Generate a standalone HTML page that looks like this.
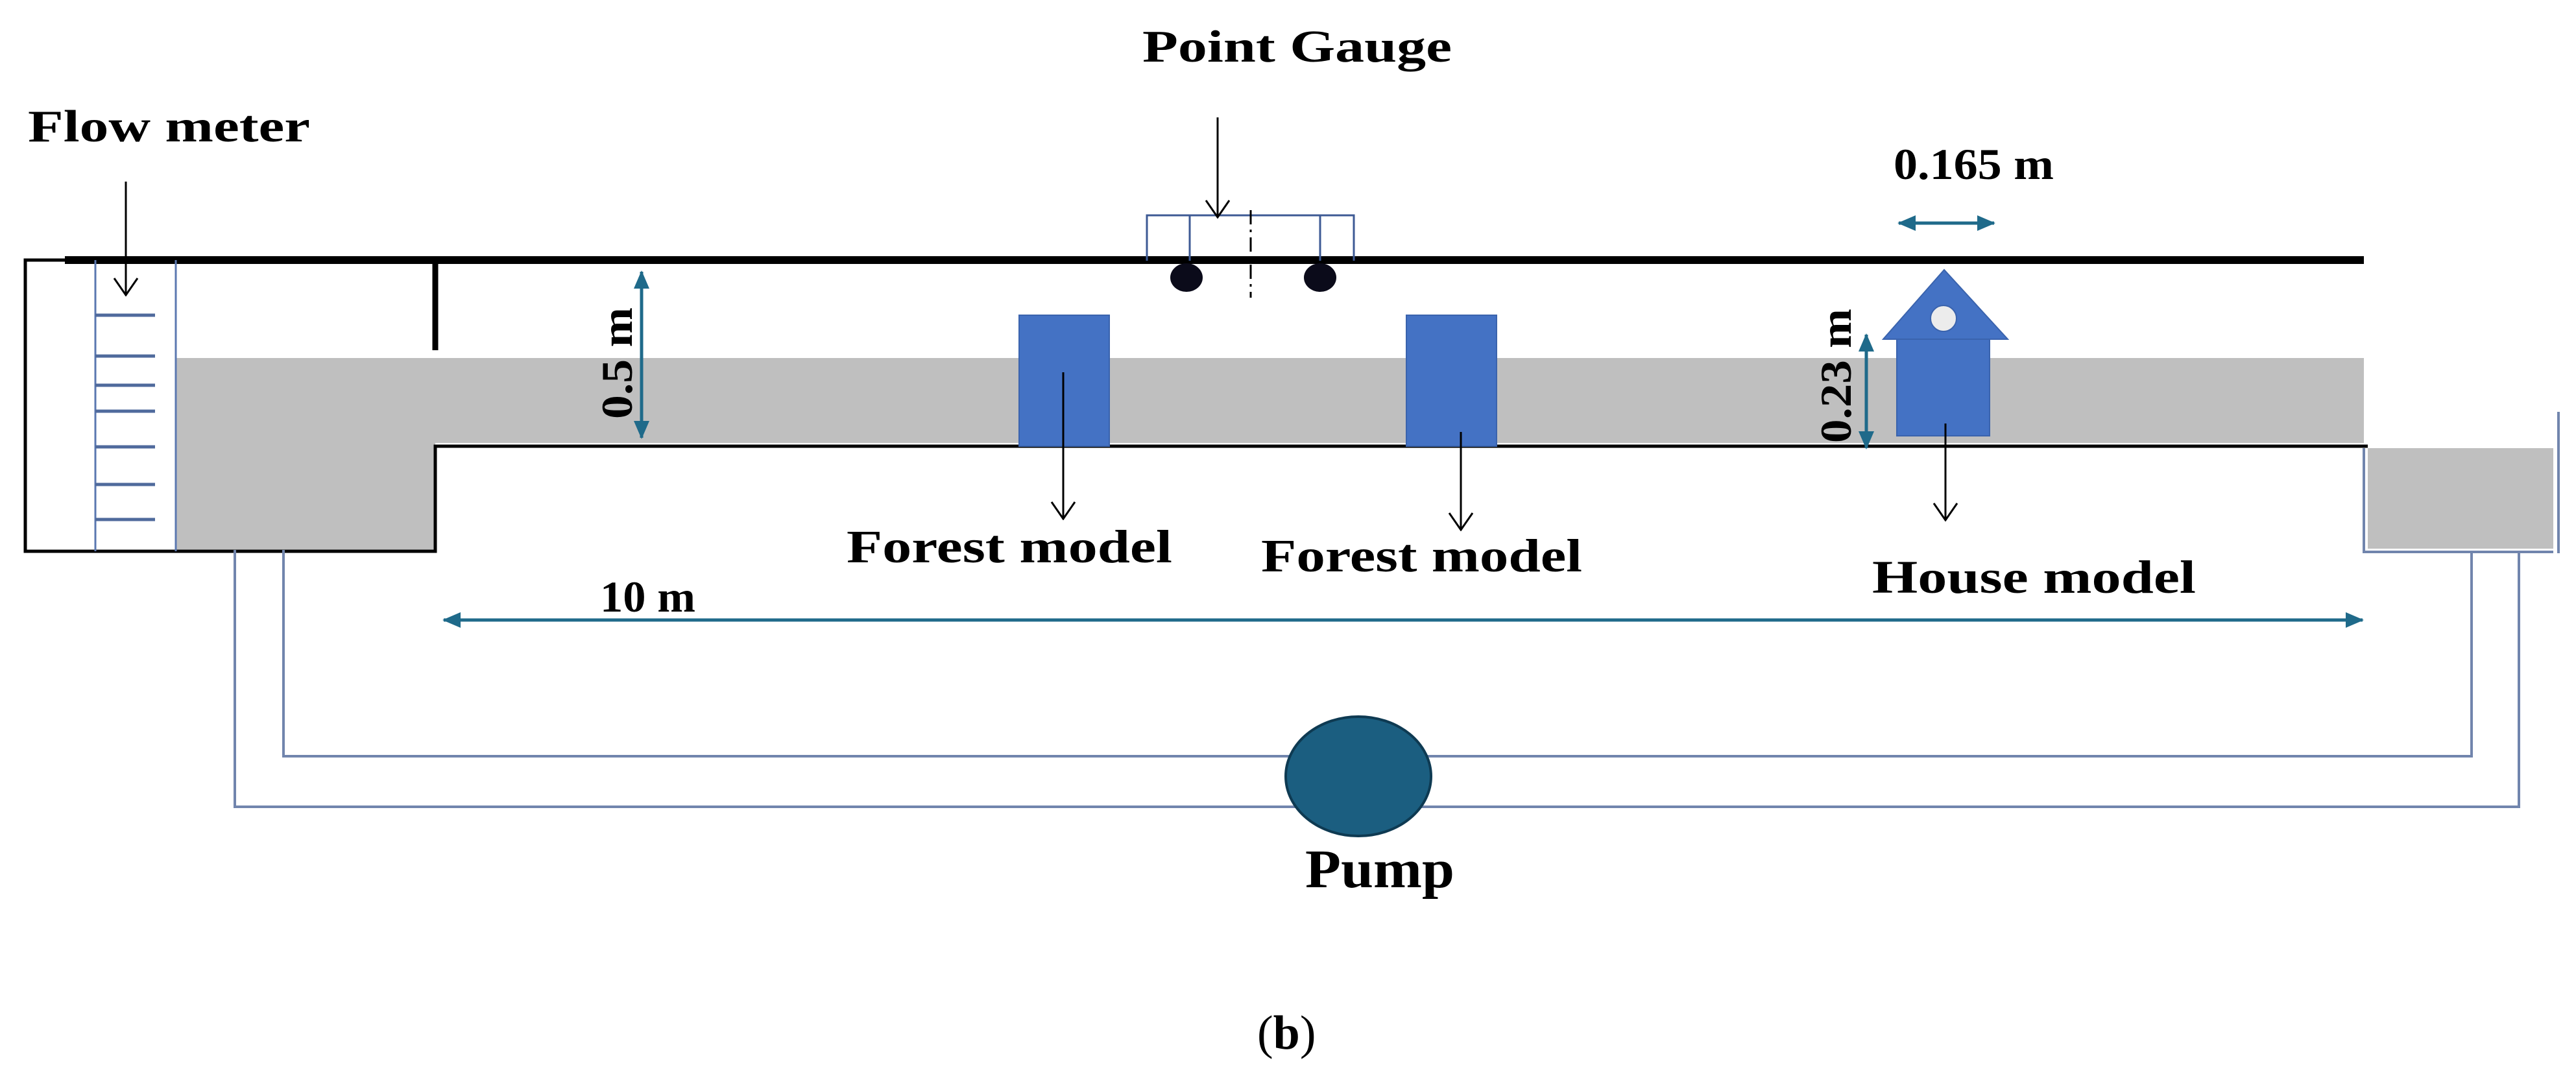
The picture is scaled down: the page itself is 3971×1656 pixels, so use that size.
<!DOCTYPE html>
<html><head><meta charset="utf-8"><style>
html,body{margin:0;padding:0;background:#fff}
svg{display:block}
text{font-family:"Liberation Serif",serif;font-weight:bold;fill:#000}
</style></head><body>
<svg width="3971" height="1656" viewBox="0 0 3971 1656" xmlns="http://www.w3.org/2000/svg">
<defs>
<marker id="ab" markerWidth="12" markerHeight="12" refX="10" refY="6" orient="auto" markerUnits="userSpaceOnUse" viewBox="0 0 12 12">
<path d="M0,0 L10,6 L0,12" fill="none" stroke="#000" stroke-width="1.5"/></marker>
<marker id="blk" markerWidth="30" markerHeight="40" refX="28" refY="20" orient="auto" markerUnits="userSpaceOnUse">
<path d="M2,2 L28,20 L2,38" fill="none" stroke="#000" stroke-width="3"/></marker>
<marker id="tl" markerWidth="30" markerHeight="24" refX="26" refY="12" orient="auto-start-reverse" markerUnits="userSpaceOnUse">
<path d="M0,0 L28,12 L0,24 z" fill="#1f6a8a"/></marker>
</defs>

<!-- gray water -->
<rect x="271" y="552" width="3373" height="131" fill="#bfbfbf"/>
<rect x="271" y="552" width="400" height="296" fill="#bfbfbf"/>
<rect x="3650" y="691" width="286" height="155" fill="#bfbfbf"/>

<!-- frame -->
<line x1="100" y1="401" x2="3644" y2="401" stroke="#000" stroke-width="12"/>
<polyline points="100,401 39,401 39,850 671,850 671,688 3650,688" fill="none" stroke="#000" stroke-width="5"/>
<line x1="671" y1="401" x2="671" y2="540" stroke="#000" stroke-width="9"/>

<!-- flow meter tube -->
<g stroke="#5b78b0" stroke-width="3" fill="none">
<line x1="147" y1="401" x2="147" y2="850"/>
<line x1="271" y1="401" x2="271" y2="850"/>
</g>
<g stroke="#4f6a9c" stroke-width="5">
<line x1="147" y1="486" x2="239" y2="486"/>
<line x1="147" y1="549" x2="239" y2="549"/>
<line x1="147" y1="594" x2="239" y2="594"/>
<line x1="147" y1="634" x2="239" y2="634"/>
<line x1="147" y1="689" x2="239" y2="689"/>
<line x1="147" y1="747" x2="239" y2="747"/>
<line x1="147" y1="801" x2="239" y2="801"/>
</g>

<!-- pipes -->
<g stroke="#7185ad" stroke-width="4" fill="none">
<polyline points="437,848 437,1166 3810,1166 3810,851"/>
<polyline points="362,848 362,1244 3883,1244 3883,851"/>
<polyline points="3644,691 3644,851 3936,851"/>
<line x1="3944" y1="635" x2="3944" y2="853"/>
</g>

<!-- pump -->
<ellipse cx="2094" cy="1197" rx="112" ry="92" fill="#1b5e80" stroke="#0e3a52" stroke-width="4"/>

<!-- forest blocks -->
<rect x="1571" y="486" width="139" height="202" fill="#4472c4" stroke="#3a63ad" stroke-width="2"/>
<rect x="2168" y="486" width="139" height="202" fill="#4472c4" stroke="#3a63ad" stroke-width="2"/>

<!-- house -->
<rect x="2924" y="523" width="143" height="149" fill="#4472c4" stroke="#3a63ad" stroke-width="2"/>
<polygon points="2997,416 2903,523 3095,523" fill="#4472c4" stroke="#3a63ad" stroke-width="2"/>
<circle cx="2996" cy="491" r="20" fill="#ececec" stroke="#3a63ad" stroke-width="2"/>

<!-- point gauge -->
<g stroke="#3d5a94" stroke-width="3" fill="none">
<polyline points="1768,402 1768,332 2087,332 2087,402"/>
<line x1="1834" y1="332" x2="1834" y2="402"/>
<line x1="2035" y1="332" x2="2035" y2="402"/>
</g>
<line x1="1928" y1="324" x2="1928" y2="459" stroke="#000" stroke-width="3" stroke-dasharray="22,8,4,8"/>
<ellipse cx="1829" cy="428" rx="25" ry="22" fill="#0b0b1a"/>
<ellipse cx="2035" cy="428" rx="25" ry="22" fill="#0b0b1a"/>

<!-- black pointer arrows -->
<g stroke="#000" stroke-width="3" fill="none" marker-end="url(#blk)">
<line x1="194" y1="280" x2="194" y2="455"/>
<line x1="1877" y1="181" x2="1877" y2="335"/>
<line x1="1639" y1="574" x2="1639" y2="800"/>
<line x1="2252" y1="666" x2="2252" y2="817"/>
<line x1="2999" y1="653" x2="2999" y2="802"/>
</g>

<!-- teal dimension arrows -->
<g stroke="#1f6a8a" stroke-width="5" fill="none" marker-start="url(#tl)" marker-end="url(#tl)">
<line x1="989" y1="419" x2="989" y2="675"/>
<line x1="2877" y1="516" x2="2877" y2="691"/>
<line x1="2927" y1="344" x2="3074" y2="344"/>
<line x1="684" y1="956" x2="3642" y2="956"/>
</g>

<!-- labels -->
<text x="43" y="218" font-size="70" textLength="435" lengthAdjust="spacingAndGlyphs">Flow meter</text>
<text x="1761" y="95" font-size="70" textLength="477" lengthAdjust="spacingAndGlyphs">Point Gauge</text>
<text x="2919" y="276" font-size="68" textLength="247" lengthAdjust="spacingAndGlyphs">0.165 m</text>
<text x="1305" y="867" font-size="72" textLength="502" lengthAdjust="spacingAndGlyphs">Forest model</text>
<text x="1944" y="881" font-size="72" textLength="495" lengthAdjust="spacingAndGlyphs">Forest model</text>
<text x="2886" y="914" font-size="72" textLength="499" lengthAdjust="spacingAndGlyphs">House model</text>
<text x="925" y="943" font-size="68" textLength="147" lengthAdjust="spacingAndGlyphs">10 m</text>
<text x="2012" y="1368" font-size="84" textLength="230" lengthAdjust="spacingAndGlyphs">Pump</text>
<text x="1938" y="1617" font-size="74" font-weight="normal" style="font-weight:normal">(<tspan font-weight="bold" style="font-weight:bold">b</tspan>)</text>
<text transform="translate(974,646) rotate(-90)" font-size="68" textLength="172" lengthAdjust="spacingAndGlyphs">0.5 m</text>
<text transform="translate(2853,683) rotate(-90)" font-size="68" textLength="207" lengthAdjust="spacingAndGlyphs">0.23 m</text>
</svg>
</body></html>
